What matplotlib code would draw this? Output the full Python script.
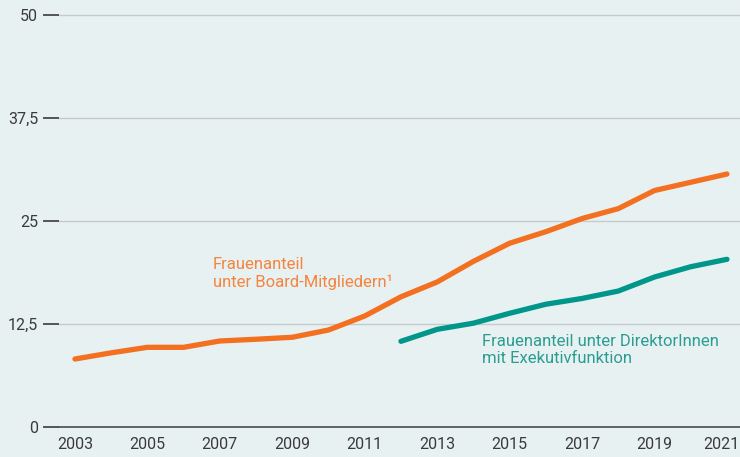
import matplotlib
matplotlib.use("Agg")
import matplotlib.pyplot as plt
from matplotlib import transforms

years_board = list(range(2003, 2022))
board = [8.25, 9.0, 9.67, 9.67, 10.44, 10.65, 10.89, 11.77, 13.47, 15.8, 17.6, 20.1,
         22.3, 23.7, 25.3, 26.5, 28.7, 29.7, 30.7]
years_exec = list(range(2012, 2022))
execs = [10.4, 11.85, 12.6, 13.8, 14.9, 15.6, 16.5, 18.2, 19.45, 20.35]

yticks = [0, 12.5, 25, 37.5, 50]
ytick_labels = ["0", "12,5", "25", "37,5", "50"]
xticks = list(range(2003, 2022, 2))

label_board = "Frauenanteil\nunter Board-Mitgliedern\u00b9"
label_exec = "Frauenanteil unter DirektorInnen\nmit Exekutivfunktion"

plt.rcParams["font.family"] = ["Roboto", "DejaVu Sans"]

bg = "#E8F1F2"
orange = "#F37021"
teal = "#00968A"
txt = "#3A3A3A"

fig = plt.figure(figsize=(7.4, 4.57), dpi=100, facecolor=bg)
ax = fig.add_axes([59/740, 1 - 427/457, 1 - 59/740, (427 - 15)/457])
ax.set_facecolor(bg)

ax.set_xlim(2002.56, 2021.36)
ax.set_ylim(0, 50)

for y in yticks[1:]:
    ax.axhline(y, color="#C5CBCC", lw=1.0, zorder=1, clip_on=False)
ax.axhline(0, color="#4A4A4A", lw=1.2, zorder=2, clip_on=False)

ax.plot(years_board, board, color=orange, lw=3.8, solid_capstyle="round",
        solid_joinstyle="round", zorder=3, clip_on=False)
ax.plot(years_exec, execs, color=teal, lw=3.8, solid_capstyle="round",
        solid_joinstyle="round", zorder=3, clip_on=False)

for s in ax.spines.values():
    s.set_visible(False)

ax.set_yticks(yticks)
ax.set_yticklabels(ytick_labels)
ax.tick_params(axis="y", length=11.5, width=1.2, color="#3A3A3A", pad=3.6,
               labelsize=11.5, labelcolor=txt)
ax.set_xticks(xticks)
ax.set_xticklabels([str(x) for x in xticks])
ax.tick_params(axis="x", length=0, pad=7, labelsize=11.5, labelcolor=txt)

last = ax.get_xticklabels()[-1]
last.set_transform(last.get_transform() +
                   transforms.ScaledTranslation(-6/100, 0, fig.dpi_scale_trans))

fig.text(213/740, 1 - 257/457, label_board,
         color="#F4843F", fontsize=12, va="top", ha="left", linespacing=1.2)
fig.text(482/740, 1 - 334/457, label_exec,
         color="#2A9D92", fontsize=12, va="top", ha="left", linespacing=1.2)

fig.savefig("out.png", dpi=100, facecolor=bg)
